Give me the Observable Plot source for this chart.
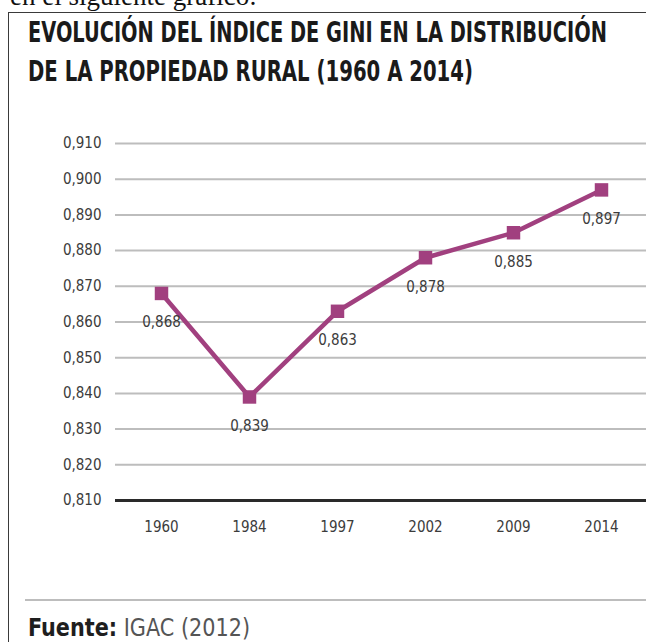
<!DOCTYPE html>
<html>
<head>
<meta charset="utf-8">
<script src="https://cdn.jsdelivr.net/npm/d3@7"></script>
<script src="https://cdn.jsdelivr.net/npm/@observablehq/plot@0.6"></script>
<style>
  html, body { margin: 0; padding: 0; background: #fff; }
  body { width: 646px; height: 642px; position: relative; overflow: hidden; }
  .frame { position: absolute; left: 8px; top: 12px; width: 700px; height: 700px;
           border-left: 1.5px solid #3a3a3a; border-top: 1.5px solid #3a3a3a; }
  .lead { position: absolute; left: 10px; top: -17px; font-family: "Liberation Serif", serif;
          font-size: 27px; line-height: 27px; color: #111; white-space: nowrap; }
  .title { position: absolute; left: 28px; font-family: "DejaVu Sans", sans-serif;
           font-stretch: condensed; font-weight: bold; font-size: 28px; line-height: 30px;
           color: #1a1a1a; white-space: nowrap; transform-origin: 0 50%; }
  #chart { position: absolute; left: 0; top: 115px; }
  .rule { position: absolute; left: 25px; top: 599px; width: 640px; height: 2px; background: #bdbdbd; }
  .source { position: absolute; left: 28px; top: 614px; font-family: "DejaVu Sans", sans-serif;
            font-stretch: condensed; font-size: 25px; line-height: 28px; color: #555;
            white-space: nowrap; transform-origin: 0 50%; }
  .source b { color: #1e1e1e; }
</style>
</head>
<body>
<div class="frame"></div>
<div class="lead">en el siguiente gráfico:</div>
<div class="title" id="t1" data-w="579" style="top:18px">EVOLUCIÓN DEL ÍNDICE DE GINI EN LA DISTRIBUCIÓN</div>
<div class="title" id="t2" data-w="445" style="top:57px">DE LA PROPIEDAD RURAL (1960 A 2014)</div>
<div id="chart"></div>
<div class="rule"></div>
<div class="source" id="src" data-w="222">
<b>Fuente:</b> IGAC (2012)</div>
<script>
const years = ["1960", "1984", "1997", "2002", "2009", "2014"];
const gini = [0.868, 0.839, 0.863, 0.878, 0.885, 0.897];
const yTicks = [0.81, 0.82, 0.83, 0.84, 0.85, 0.86, 0.87, 0.88, 0.89, 0.90, 0.91];

const data = years.map((year, i) => ({year, gini: gini[i]}));
const fmt = d => d.toFixed(3).replace(".", ",");
const purple = "#a1407f";
const font = "'DejaVu Sans Condensed', 'DejaVu Sans', sans-serif";

const chart = Plot.plot({
  width: 646,
  height: 435,
  marginLeft: 115,
  marginRight: 0,
  marginTop: 28,
  marginBottom: 50,
  style: {fontFamily: font, fontSize: "15px", color: "#3c3c3c", background: "transparent"},
  x: {type: "point", domain: years, padding: 0.5, label: null},
  y: {domain: [0.81, 0.91], label: null},
  marks: [
    Plot.ruleY(yTicks.slice(1), {stroke: "#bdbdbd", strokeWidth: 2}),
    Plot.ruleY([yTicks[0]], {stroke: "#2a2a2a", strokeWidth: 3}),
    Plot.axisY({ticks: yTicks, tickFormat: fmt, tickSize: 0, tickPadding: 14, label: null, fontSize: 15}),
    Plot.axisX({tickSize: 0, tickPadding: 21, label: null, fontSize: 15}),
    Plot.line(data, {x: "year", y: "gini", stroke: purple, strokeWidth: 4.5}),
    Plot.dot(data, {x: "year", y: "gini", symbol: "square", r: 7.6, fill: purple, stroke: "none"}),
    Plot.text(data, {x: "year", y: "gini", text: d => fmt(d.gini), dy: 29, fill: "#3c3c3c", fontSize: 15})
  ]
});
document.getElementById("chart").appendChild(chart);

for (const id of ["t1", "t2", "src"]) {
  const el = document.getElementById(id);
  const target = +el.dataset.w;
  const w = el.getBoundingClientRect().width;
  if (w > 0) el.style.transform = `scaleX(${target / w})`;
}
</script>
</body>
</html>
